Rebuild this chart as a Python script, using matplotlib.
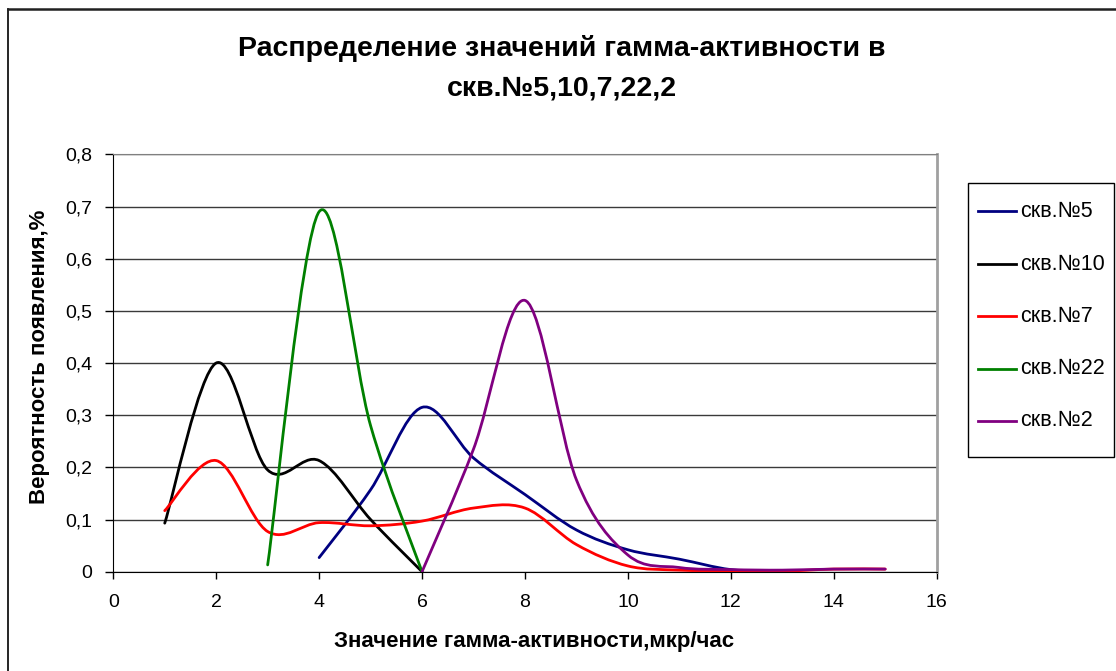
import numpy as np
import matplotlib
matplotlib.use("Agg")
import matplotlib.pyplot as plt
from matplotlib.path import Path
from matplotlib.patches import PathPatch, Rectangle
from matplotlib.lines import Line2D

plt.rcParams["font.family"] = ["Liberation Sans", "DejaVu Sans"]

# values (x = gamma activity, y = probability)
x_skv5 = [4, 5, 6, 7, 8, 9, 10, 11, 12, 13]
y_skv5 = [0.027, 0.157, 0.315, 0.218, 0.148, 0.080, 0.042, 0.024, 0.004, 0.0]

x_skv10 = [1, 2, 3, 4, 5, 6]
y_skv10 = [0.093, 0.400, 0.195, 0.213, 0.100, 0.0]

x_skv7 = [1, 2, 3, 4, 5, 6, 7, 8, 9, 10, 11, 12, 13, 14, 15]
y_skv7 = [0.117, 0.213, 0.077, 0.094, 0.088, 0.097, 0.122, 0.122, 0.052,
          0.011, 0.003, 0.002, 0.001, 0.005, 0.005]

x_skv22 = [3, 4, 5, 6]
y_skv22 = [0.013, 0.690, 0.280, 0.0]

x_skv2 = [6, 7, 8, 9, 10, 11, 12, 13, 14, 15]
y_skv2 = [0.0, 0.235, 0.520, 0.176, 0.032, 0.008, 0.004, 0.003, 0.005, 0.005]

series = [
    ("скв.№5", x_skv5, y_skv5, "#000080"),
    ("скв.№10", x_skv10, y_skv10, "#000000"),
    ("скв.№7", x_skv7, y_skv7, "#FF0000"),
    ("скв.№22", x_skv22, y_skv22, "#008000"),
    ("скв.№2", x_skv2, y_skv2, "#800080"),
]

W, H = 1116, 671


def smooth_path(xs, ys):
    # Excel-like smoothed line: cubic Bezier segments through every point
    pts = np.column_stack([xs, ys]).astype(float)
    n = len(pts)
    verts = [pts[0]]
    codes = [Path.MOVETO]
    for i in range(n - 1):
        p0 = pts[max(i - 1, 0)]
        p1 = pts[i]
        p2 = pts[i + 1]
        p3 = pts[min(i + 2, n - 1)]
        verts += [p1 + (p2 - p0) / 6, p2 - (p3 - p1) / 6, p2]
        codes += [Path.CURVE4] * 3
    return Path(verts, codes)


fig = plt.figure(figsize=(W / 100, H / 100), dpi=100)
ax = fig.add_axes([0.1015, 0.148, 0.7378, 0.622])

for label, xs, ys, color in series:
    ax.add_patch(PathPatch(smooth_path(xs, ys), fill=False, edgecolor=color,
                           lw=2.0, zorder=3, capstyle="round", joinstyle="round"))

ax.set_xlim(0, 16)
ax.set_ylim(0, 0.8)
ax.set_xticks(range(0, 17, 2))
ax.set_yticks(np.arange(0, 0.81, 0.1))
ax.set_yticklabels([f"{v:.1f}".replace(".", ",") if v > 0 else "0"
                    for v in np.arange(0, 0.81, 0.1)])
ax.yaxis.grid(True, color="#3a3a3a", lw=1.0)
ax.set_axisbelow(True)
ax.tick_params(axis="y", direction="out", length=6, width=1, pad=9, labelsize=14)
ax.tick_params(axis="x", direction="out", length=5, width=1, pad=11, labelsize=14)
ax.spines["left"].set_color("#000000")
ax.spines["bottom"].set_color("#000000")
ax.spines["top"].set_color("#808080")
ax.spines["right"].set_color("#a0a0a0")
ax.spines["right"].set_linewidth(2)

fig.text(562 / W, 1 - 48 / H, "Распределение значений гамма-активности в",
         ha="center", va="center", fontsize=20.5, fontweight="bold")
fig.text(562 / W, 1 - 89 / H, "скв.№5,10,7,22,2",
         ha="center", va="center", fontsize=20.5, fontweight="bold")
fig.text(534 / W, 1 - 641 / H, "Значение гамма-активности,мкр/час",
         ha="center", va="center", fontsize=16, fontweight="bold")
fig.text(40 / W, 1 - 357 / H, "Вероятность появления,%",
         ha="center", va="center", rotation=90, fontsize=16, fontweight="bold")

# legend box drawn by hand to match the reference placement
fig.add_artist(Rectangle((968 / W, 1 - 457 / H), (1114 - 968) / W, (457 - 183) / H,
                         fill=False, edgecolor="#000000", lw=1.0))
entry_y = [211, 264, 316, 369, 421]
for (label, _, _, color), yy in zip(series, entry_y):
    fig.add_artist(Line2D([978 / W, 1016 / W], [1 - yy / H, 1 - yy / H],
                          color=color, lw=2.0))
    fig.text(1020 / W, 1 - yy / H, label, ha="left", va="center", fontsize=15.5)

# outer chart frame (only left and top edges show in the crop)
fig.add_artist(Line2D([7.5 / W, 7.5 / W], [0, 1 - 9 / H],
                      color="#000000", lw=1.2))
fig.add_artist(Line2D([7.5 / W, 1], [1 - 9 / H, 1 - 9 / H],
                      color="#202020", lw=1.8))

fig.savefig("out.png", dpi=100)
